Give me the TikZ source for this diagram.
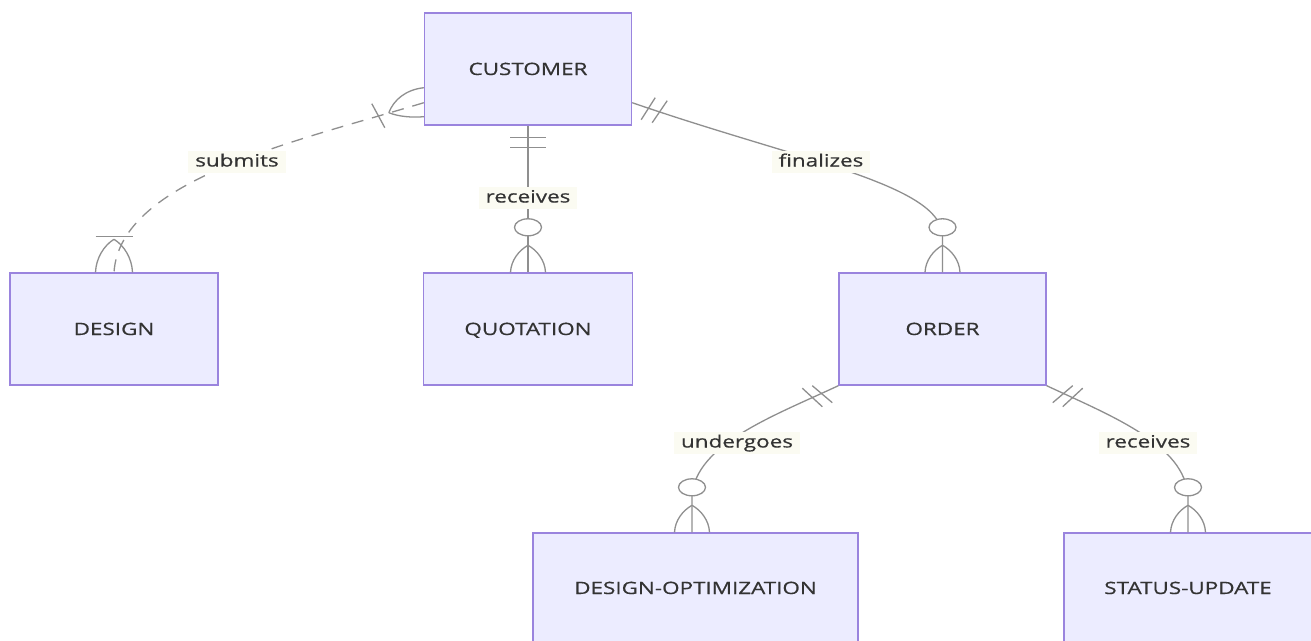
\documentclass[tikz,border=0pt]{standalone}
\usepackage{fontspec}
\setmainfont[FakeStretch=1.32,FakeBold=0.6]{Open Sans}
\usetikzlibrary{calc}
\definecolor{boxfill}{HTML}{ECECFF}
\definecolor{boxline}{HTML}{9A84DE}
\definecolor{txt}{HTML}{333333}
\definecolor{conn}{HTML}{8F8F8F}
\definecolor{lblbg}{HTML}{FBFBF2}
\tikzset{
  entity/.style={draw=boxline, fill=boxfill, line width=1.4pt, text=txt, minimum height=112pt, inner sep=0pt, text height=12pt, text depth=0pt},
  rel/.style={draw=conn, line width=1.3pt},
  mk/.style={draw=conn, line width=1.3pt},
  lbl/.style={fill=lblbg, text=txt, inner xsep=7pt, inner ysep=3pt, text height=12.5pt, text depth=3.5pt},
  zmany/.pic={
    \draw[mk] (0,-27) .. controls (-9,-22) and (-17,-12) .. (-17.5,0);
    \draw[mk] (0,-27) .. controls (9,-22) and (17,-12) .. (17.5,0);
    \draw[mk, fill=white] (0,-45) ellipse [x radius=13.5pt, y radius=8.5pt];
  },
  onemany/.pic={
    \draw[mk] (-18.5,-36) -- (18.5,-36);
    \draw[mk] (0,-33) .. controls (-10,-27) and (-18,-14) .. (-18.5,0);
    \draw[mk] (0,-33) .. controls (10,-27) and (18,-14) .. (18.5,0);
  },
  oneone/.pic={
    \draw[mk] (-18,12) -- (18,12);
    \draw[mk] (-18,21.5) -- (18,21.5);
  }
}
\begin{document}
\begin{tikzpicture}[x=1pt,y=-1pt,font=\fontsize{17}{20}\selectfont]
\useasboundingbox (0,0) rectangle (1311,640);
\clip (0,0) rectangle (1311,640);
\fill[white] (0,0) rectangle (1311,640);

% entities
\node[entity, minimum width=207pt] (cust) at (528,69) {CUSTOMER};
\node[entity, minimum width=208pt] (design) at (114,329) {DESIGN};
\node[entity, minimum width=209pt] (quot) at (528,329) {QUOTATION};
\node[entity, minimum width=207pt] (order) at (942.5,329) {ORDER};
\node[entity, minimum width=325pt, minimum height=110pt] (dopt) at (695.5,588) {DESIGN-OPTIMIZATION};
\node[entity, minimum width=248pt, minimum height=110pt] (stat) at (1188,588) {STATUS-UPDATE};

% connector end points on the entity borders
\coordinate (e1) at ($(cust.south west)+(0,-23)$);
\coordinate (e3) at ($(cust.south east)+(0,-23)$);
\coordinate (dtop) at ($(dopt.north)+(-3.5,0)$);

% connectors
\draw[rel, dash pattern=on 12pt off 9pt] (e1) .. controls +(-125,38) and +(6,-93) .. (design.north);
\draw[rel] (cust.south) -- (quot.north);
\draw[rel] (e3) .. controls +(168,58) and +(-2.5,-51) .. ($(order.north)+(0,-37)$) -- (order.north);
\draw[rel] (order.south west) .. controls +(-64,30) and +(3,-52) .. ($(dtop)+(0,-36)$) -- (dtop);
\draw[rel] (order.south east) .. controls +(64,30) and +(-3,-52) .. ($(stat.north)+(0,-36)$) -- (stat.north);

% cardinality markers
\pic at (quot.north) {zmany};
\pic at (order.north) {zmany};
\pic at (dtop) {zmany};
\pic at (stat.north) {zmany};
\pic at (design.north) {onemany};
\pic at (cust.south) {oneone};
\begin{scope}[shift={(e1)}]
  \draw[mk] (-52,1) -- (-39,25);
  \draw[mk] (-35,10) .. controls (-30,-3) and (-18,-13) .. (0,-15);
  \draw[mk] (-35,10) .. controls (-25,14) and (-12,15) .. (0,14);
\end{scope}
\begin{scope}[shift={(e3)}]
  \draw[mk] (9,17) -- (23,-5);
  \draw[mk] (20,20) -- (35,-2);
\end{scope}
\begin{scope}[shift={(order.south west)}]
  \draw[mk] (-26,0) -- (-6,17);
  \draw[mk] (-36,2.5) -- (-16,21);
\end{scope}
\begin{scope}[shift={(order.south east)}]
  \draw[mk] (26,0) -- (6,17);
  \draw[mk] (36,2.5) -- (16,21);
\end{scope}

% relationship labels
\node[lbl] (l1) at (237,162) {submits};
\node[lbl] (l2) at (528,198) {receives};
\node[lbl] (l3) at (821,162) {finalizes};
\node[lbl] (l4) at (737,443) {undergoes};
\node[lbl] (l5) at (1148,443) {receives};
\end{tikzpicture}
\end{document}
